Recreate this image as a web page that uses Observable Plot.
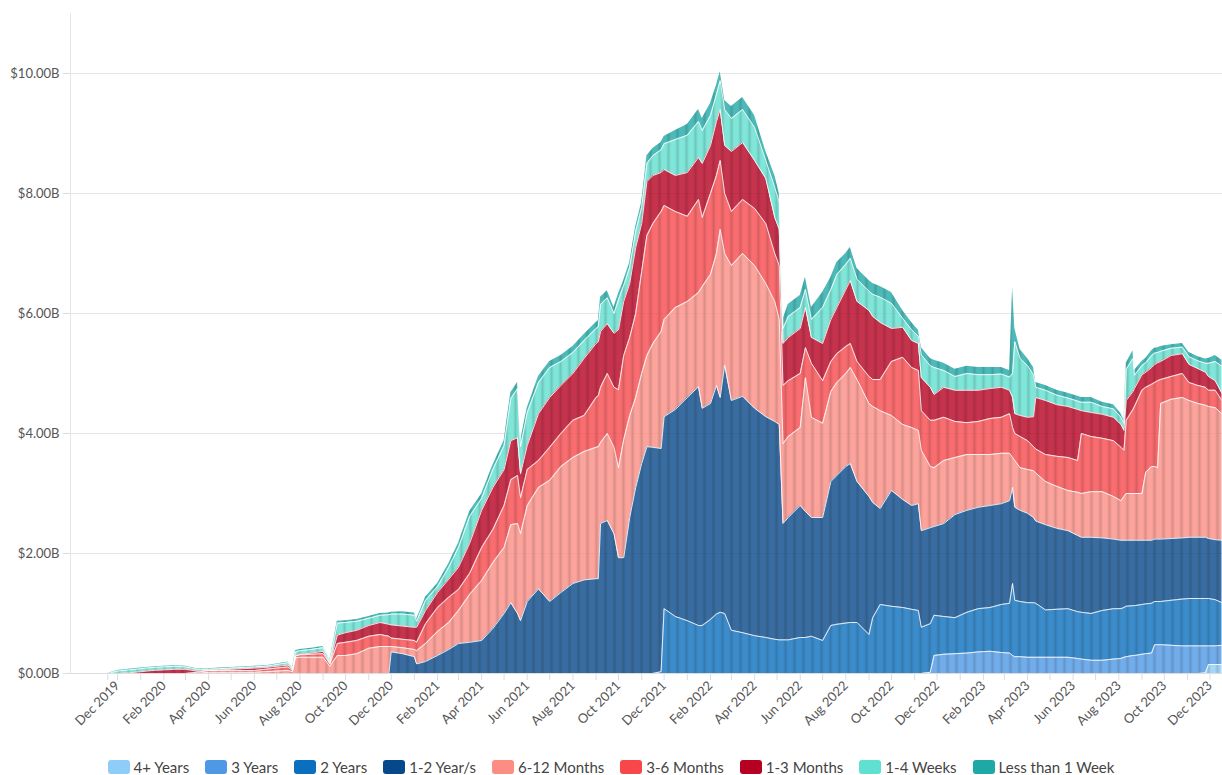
<!DOCTYPE html>
<html><head><meta charset="utf-8">
<script src="https://cdn.jsdelivr.net/npm/d3@7"></script>
<script src="https://cdn.jsdelivr.net/npm/@observablehq/plot@0.6"></script>
<style>
body{margin:0;background:#fff;font-family:Lato,"Source Sans Pro",sans-serif;}
#legend{display:flex;justify-content:center;align-items:center;height:14px;margin-top:10px;font-size:15px;color:#444;}
.item{display:flex;align-items:center;margin:0 8px;white-space:nowrap;}
.sw{width:22px;height:14px;border-radius:3px;margin-right:4px;}
</style></head><body>
<div id="chart"></div><div id="legend"></div>
<script>
const seriesNames = ["4+ Years","3 Years","2 Years","1-2 Year/s","6-12 Months","3-6 Months","1-3 Months","1-4 Weeks","Less than 1 Week"];
const seriesColors = ["#8fcdf9","#4f98e6","#0b6fbe","#07488a","#fb8d83","#f7474b","#b60021","#5fe0d0","#1fa9a6"];

const dates = [
"2019-11-18","2019-12-01","2019-12-16","2020-01-01","2020-01-16","2020-02-01","2020-02-16","2020-03-01","2020-03-16","2020-04-01",
"2020-04-16","2020-05-01","2020-05-16","2020-06-01","2020-06-16","2020-07-01","2020-07-16","2020-07-22","2020-07-26","2020-08-01",
"2020-08-16","2020-09-01","2020-09-10","2020-09-20","2020-10-01","2020-10-16","2020-11-01","2020-11-16","2020-11-28","2020-12-01",
"2020-12-16","2021-01-01","2021-01-04","2021-01-16","2021-02-01","2021-02-16","2021-03-01","2021-03-16","2021-04-01","2021-04-16",
"2021-05-01","2021-05-10","2021-05-19","2021-05-23","2021-06-01","2021-06-16","2021-07-01","2021-07-16","2021-08-01","2021-08-16",
"2021-09-01","2021-09-04","2021-09-07","2021-09-16","2021-09-25","2021-10-01","2021-10-08","2021-10-16","2021-10-24","2021-11-01",
"2021-11-08","2021-11-16","2021-11-27","2021-12-01","2021-12-16","2022-01-01","2022-01-16","2022-01-21","2022-02-01","2022-02-09",
"2022-02-14","2022-02-20","2022-03-01","2022-03-16","2022-04-01","2022-04-16","2022-04-28","2022-05-04","2022-05-09","2022-05-16",
"2022-06-01","2022-06-08","2022-06-16","2022-07-01","2022-07-12","2022-07-20","2022-08-01","2022-08-07","2022-08-16","2022-09-01",
"2022-09-06","2022-09-16","2022-10-01","2022-10-16","2022-10-28","2022-11-06","2022-11-10","2022-11-22","2022-11-27","2022-12-10",
"2022-12-25","2023-01-10","2023-01-25","2023-02-10","2023-02-25","2023-03-08","2023-03-12","2023-03-15","2023-03-22","2023-04-01",
"2023-04-09","2023-04-12","2023-04-25","2023-05-10","2023-05-25","2023-06-07","2023-06-12","2023-06-25","2023-07-10","2023-07-25",
"2023-08-04","2023-08-08","2023-08-11","2023-08-20","2023-08-22","2023-09-01","2023-09-06","2023-09-14","2023-09-18","2023-09-22",
"2023-09-26","2023-10-10","2023-10-25","2023-11-03","2023-11-15","2023-11-25","2023-11-29","2023-12-08","2023-12-17"];

// values in $B, one entry per date
const years4plus = [
0,0,0,0,0,0,0,0,0,0, 0,0,0,0,0,0,0,0,0,0, 0,0,0,0,0,0,0,0,0,0, 0,0,0,0,0,0,0,0,0,0,
0,0,0,0,0,0,0,0,0,0, 0,0,0,0,0,0,0,0,0,0, 0,0,0,0,0,0,0,0,0,0, 0,0,0,0,0,0,0,0,0,0,
0,0,0,0,0,0,0,0,0,0, 0,0,0,0,0,0,0,0,0,0, 0,0,0,0,0,0,0,0,0,0, 0,0,0,0,0,0,0,0,0,0,
0,0,0,0,0,0,0,0,0,0, 0,0,0,0,0,0.01,0.15,0.15,0.15];
const years3 = [
0,0,0,0,0,0,0,0,0,0, 0,0,0,0,0,0,0,0,0,0, 0,0,0,0,0,0,0,0,0,0, 0,0,0,0,0,0,0,0,0,0,
0,0,0,0,0,0,0,0,0,0, 0,0,0,0,0,0,0,0,0,0, 0,0,0,0,0,0,0,0,0,0, 0,0,0,0,0,0,0,0,0,0,
0,0,0,0,0,0,0,0,0,0, 0,0,0,0,0,0,0,0.02,0.3,0.32,
0.33,0.34,0.36,0.37,0.35,0.34,0.3,0.28,0.28,0.27, 0.27,0.27,0.27,0.27,0.27,0.25,0.24,0.22,0.22,0.24,
0.25,0.27,0.28,0.3,0.3,0.32,0.33,0.34,0.48,0.48, 0.48,0.47,0.46,0.46,0.46,0.45,0.31,0.31,0.32];
const years2 = [
0,0,0,0,0,0,0,0,0,0, 0,0,0,0,0,0,0,0,0,0, 0,0,0,0,0,0,0,0,0,0, 0,0,0,0,0,0,0,0,0,0,
0,0,0,0,0,0,0,0,0,0, 0,0,0,0,0,0,0,0,0,0,
0,0,0.03,1.08,0.95,0.88,0.8,0.8,0.9,0.99, 1.02,1.0,0.72,0.68,0.63,0.6,0.57,0.56,0.56,0.56,
0.6,0.6,0.62,0.55,0.8,0.82,0.84,0.85,0.85,0.65, 0.93,1.15,1.12,1.1,1.07,1.05,0.77,0.81,0.67,0.63,
0.6,0.68,0.72,0.73,0.8,0.83,1.2,0.94,0.92,0.91, 0.91,0.9,0.79,0.8,0.81,0.78,0.78,0.78,0.83,0.84,
0.83,0.83,0.84,0.83,0.83,0.83,0.83,0.83,0.72,0.72, 0.72,0.75,0.78,0.79,0.79,0.79,0.79,0.77,0.71];
const years1to2 = [
0,0,0,0,0,0,0,0,0,0, 0,0,0,0,0,0,0,0,0,0, 0,0,0,0,0,0,0,0,0,0.36,
0.33,0.28,0.16,0.2,0.3,0.4,0.5,0.52,0.55,0.75, 1.0,1.18,1.0,0.88,1.2,1.41,1.2,1.35,1.5,1.56,
1.58,1.58,2.5,2.55,2.33,1.93,1.93,2.6,3.1,3.5, 3.78,3.77,3.72,3.2,3.45,3.72,3.98,3.62,3.6,3.81,
3.58,4.14,3.83,3.94,3.79,3.68,3.63,3.59,1.94,2.04, 2.2,2.1,1.98,2.05,2.4,2.48,2.61,2.65,2.35,2.3,
1.92,1.6,1.93,1.8,1.73,1.78,1.61,1.6,1.48,1.55, 1.72,1.7,1.69,1.7,1.68,1.71,1.6,1.55,1.52,1.49,
1.42,1.37,1.42,1.35,1.3,1.27,1.25,1.27,1.21,1.16, 1.14,1.12,1.1,1.09,1.09,1.07,1.06,1.05,1.04,1.04,
1.04,1.03,1.02,1.02,1.02,1.02,1.0,1.0,1.04];
const months6to12 = [
0,0,0,0,0,0,0,0,0,0.02, 0.02,0.02,0.02,0.02,0.03,0.04,0.05,0.03,0.26,0.27,
0.27,0.27,0.12,0.3,0.3,0.33,0.42,0.45,0.45,0.09, 0.1,0.12,0.22,0.3,0.4,0.45,0.55,0.8,1.0,1.1,
1.1,1.3,1.5,1.45,1.6,1.69,2.02,2.1,2.1,2.14, 2.19,2.2,1.35,1.45,1.44,1.5,1.97,1.7,1.5,1.5,
1.52,1.73,1.95,1.62,1.7,1.6,1.57,2.03,2.15,2.2, 2.8,1.86,2.25,2.38,2.38,2.22,2.0,1.75,1.33,1.35,
1.3,2.23,1.67,1.57,1.5,1.55,1.55,1.6,1.7,1.55, 1.6,1.63,1.25,1.25,1.3,1.22,1.34,1.02,0.98,1.05,
0.95,0.93,0.88,0.85,0.84,0.79,0.5,0.78,0.71,0.73, 0.78,0.8,0.72,0.7,0.67,0.72,0.73,0.76,0.77,0.71,
0.66,0.73,0.78,0.78,0.78,0.78,1.13,1.23,1.21,1.19, 2.26,2.32,2.34,2.28,2.23,2.2,2.2,2.2,2.11];
const months3to6 = [
0,0,0,0,0,0,0,0,0.02,0.03, 0.03,0.03,0.03,0.03,0.04,0.05,0.06,0.02,0.03,0.04,
0.05,0.06,0.04,0.2,0.22,0.22,0.2,0.2,0.17,0.14, 0.14,0.15,0.14,0.33,0.4,0.42,0.35,0.35,0.55,0.55,
0.7,0.75,0.8,0.6,0.6,0.45,0.55,0.55,0.62,0.6, 0.83,0.85,0.92,1.0,1.0,1.3,1.4,1.3,1.4,1.7,
2.0,2.0,2.0,1.9,1.6,1.42,1.55,1.15,1.35,1.3, 1.15,1.0,0.9,0.9,0.95,1.0,0.8,0.9,0.97,0.93,
0.9,0.5,0.9,0.71,0.5,0.48,0.45,0.4,0.3,0.45, 0.45,0.52,0.9,1.12,1.0,1.0,0.66,0.77,0.79,0.72,
0.6,0.53,0.55,0.6,0.6,0.66,0.5,0.45,0.52,0.48, 0.4,0.4,0.45,0.5,0.55,0.53,1.0,0.92,0.89,0.93,
0.89,0.77,1.22,1.4,1.45,1.72,1.42,1.37,1.4,1.45, 0.4,0.38,0.4,0.3,0.3,0.3,0.27,0.29,0.22];
const months1to3 = [
0,0,0.01,0.03,0.05,0.06,0.07,0.07,0.02,0, 0.01,0.02,0.03,0.04,0.03,0.03,0.03,0.01,0.01,0.01,
0.02,0.04,0.01,0.14,0.16,0.17,0.18,0.2,0.2,0.22, 0.22,0.22,0.25,0.22,0.25,0.3,0.37,0.5,0.62,0.7,
0.6,0.65,0.63,0.4,0.4,0.78,0.83,0.8,0.78,0.95, 0.9,0.9,0.93,0.83,0.9,1.0,0.9,0.9,1.1,0.8,
0.9,0.8,0.65,0.6,0.6,0.73,0.7,0.9,0.8,0.9, 0.85,0.8,1.0,0.95,0.8,0.75,0.6,0.6,0.7,0.72,
0.75,0.67,0.43,0.62,0.7,0.77,0.95,1.05,1.0,1.1, 1.05,0.95,0.55,0.5,0.45,0.45,0.55,0.55,0.43,0.5,
0.52,0.54,0.52,0.5,0.5,0.39,0.5,0.33,0.35,0.39, 0.5,0.86,0.9,0.86,0.85,0.85,0.38,0.4,0.4,0.39,
0.38,0.33,0.33,0.3,0.3,0.26,0.25,0.28,0.3,0.3, 0.3,0.35,0.33,0.3,0.28,0.25,0.23,0.16,0.12];
const weeks1to4 = [
0,0.04,0.05,0.05,0.05,0.05,0.05,0.04,0.03,0.02, 0.02,0.02,0.02,0.02,0.02,0.03,0.04,0.02,0.06,0.06,
0.06,0.06,0.03,0.2,0.17,0.15,0.12,0.12,0.16,0.18, 0.2,0.2,0.1,0.17,0.1,0.2,0.33,0.45,0.2,0.3,
0.4,0.7,0.82,0.45,0.55,0.52,0.5,0.4,0.35,0.3, 0.25,0.25,0.45,0.43,0.33,0.5,0.27,0.27,0.27,0.27,
0.3,0.33,0.38,0.43,0.6,0.62,0.6,0.55,0.5,0.45, 0.48,0.6,0.55,0.55,0.55,0.3,0.5,0.45,0.25,0.35,
0.35,0.3,0.3,0.6,0.5,0.55,0.42,0.37,0.37,0.32, 0.37,0.42,0.42,0.15,0.18,0.12,0.38,0.36,0.45,0.28,
0.23,0.28,0.26,0.23,0.22,0.22,0.4,1.2,0.95,0.86, 0.7,0.17,0.17,0.16,0.14,0.14,0.14,0.17,0.13,0.14,
0.12,0.12,0.52,0.55,0.22,0.15,0.16,0.2,0.19,0.17, 0.17,0.12,0.11,0.13,0.13,0.15,0.22,0.32,0.45];
const weekLess1 = [
0,0.01,0.01,0.01,0.01,0.01,0.01,0.01,0.01,0.01, 0.01,0.01,0.01,0.01,0.01,0.01,0.01,0.01,0.02,0.02,
0.02,0.02,0.02,0.03,0.03,0.03,0.03,0.03,0.03,0.03, 0.04,0.04,0.03,0.05,0.05,0.06,0.07,0.08,0.07,0.07,
0.08,0.1,0.1,0.1,0.08,0.1,0.1,0.1,0.1,0.1, 0.1,0.1,0.12,0.12,0.1,0.1,0.08,0.08,0.08,0.08,
0.13,0.12,0.12,0.12,0.15,0.18,0.2,0.2,0.2,0.15, 0.15,0.15,0.2,0.2,0.2,0.15,0.2,0.15,0.15,0.2,
0.2,0.2,0.2,0.25,0.2,0.2,0.18,0.18,0.18,0.18, 0.18,0.18,0.18,0.13,0.12,0.1,0.12,0.12,0.12,0.12,
0.12,0.12,0.12,0.12,0.11,0.11,1.43,0.22,0.15,0.12, 0.12,0.08,0.08,0.08,0.08,0.08,0.08,0.08,0.07,0.07,
0.06,0.05,0.1,0.13,0.08,0.07,0.07,0.08,0.08,0.08, 0.08,0.06,0.06,0.07,0.07,0.07,0.08,0.1,0.1];

const yTicks = [0, 2, 4, 6, 8, 10];

const seriesValues = [years4plus, years3, years2, years1to2, months6to12, months3to6, months1to3, weeks1to4, weekLess1];
seriesValues.forEach((arr, i) => { if (arr.length !== dates.length) console.error(seriesNames[i] + " length " + arr.length); });

const rows = [];
dates.forEach((d, i) => {
  const date = new Date(d + "T00:00:00Z");
  seriesNames.forEach((s, k) => rows.push({date, series: s, value: seriesValues[k][i]}));
});

// x scale: Dec 2019 tick and Dec 2023 tick positions
const tA = Date.UTC(2019, 11, 1), tB = Date.UTC(2023, 11, 1);
const k = 1092.5 / (tB - tA);
const xDomain = [new Date(tA - 47 / k), new Date(tB + 12.5 / k)];
const xTicks = [new Date(dates[0] + "T00:00:00Z"), ...d3.utcMonth.range(new Date(tA), new Date(tB + 86400000))];
const fmt = d3.utcFormat("%b %Y");
const tickFmt = d => (d.getUTCDate() === 1 && d.getUTCMonth() % 2 === 1) ? fmt(d) : "";

const chart = Plot.plot({
  width: 1222, height: 750,
  marginLeft: 70, marginRight: 0, marginTop: 13, marginBottom: 77,
  style: {fontFamily: "Lato, 'Source Sans Pro', sans-serif", fontSize: "13px", background: "#fff"},
  x: {type: "utc", domain: xDomain},
  y: {domain: [0, 11]},
  color: {domain: seriesNames, range: seriesColors},
  opacity: {domain: [0, 1], range: [0, 1]},
  marks: [
    Plot.gridY(yTicks.filter(d => d > 0), {stroke: "#e6e6e6", strokeOpacity: 1}),
    Plot.ruleX([xDomain[0]], {stroke: "#e6e6e6"}),
    Plot.areaY(rows, {x: "date", y: "value", z: "series", fill: "series", fillOpacity: 0.8, order: seriesNames, curve: "linear"}),
    // subtle vertical banding over the stacked total
    Plot.areaY(rows, Plot.groupX({y: "sum"}, {x: "date", y: "value", fill: "url(#bands)", curve: "linear"})),
    Plot.lineY(rows, Plot.stackY2({x: "date", y: "value", z: "series", order: seriesNames, stroke: "white", strokeWidth: 1,
      strokeOpacity: d => d.series === "Less than 1 Week" ? 0 : 0.85, curve: "linear"})),
    Plot.ruleY([0], {stroke: "#dddddd"}),
    Plot.axisY({ticks: yTicks, tickFormat: d => "$" + d.toFixed(2) + "B", tickSize: 7, tickPadding: 4, stroke: "#dddddd", fill: "#555", label: null}),
    Plot.axisX({ticks: xTicks, tickFormat: tickFmt, tickRotate: -45, tickSize: 7, tickPadding: 3, stroke: "#dddddd", fill: "#555", label: null})
  ]
});
// pattern used by the banding overlay
const ns = "http://www.w3.org/2000/svg";
const defs = document.createElementNS(ns, "defs");
const pat = document.createElementNS(ns, "pattern");
pat.setAttribute("id", "bands"); pat.setAttribute("patternUnits", "userSpaceOnUse");
pat.setAttribute("width", "9"); pat.setAttribute("height", "10");
const grad = document.createElementNS(ns, "linearGradient");
grad.setAttribute("id", "bandGrad");
[["0%", 0], ["50%", 0.13], ["100%", 0]].forEach(([o, a]) => {
  const st = document.createElementNS(ns, "stop");
  st.setAttribute("offset", o); st.setAttribute("stop-color", "#000"); st.setAttribute("stop-opacity", a);
  grad.appendChild(st);
});
const r = document.createElementNS(ns, "rect");
r.setAttribute("x", "0"); r.setAttribute("y", "0"); r.setAttribute("width", "5"); r.setAttribute("height", "10");
r.setAttribute("fill", "url(#bandGrad)");
pat.appendChild(r);
defs.appendChild(grad); defs.appendChild(pat);
chart.insertBefore(defs, chart.firstChild);
document.getElementById("chart").appendChild(chart);

const legend = document.getElementById("legend");
seriesNames.forEach((s, i) => {
  const it = document.createElement("div"); it.className = "item";
  const sw = document.createElement("div"); sw.className = "sw"; sw.style.background = seriesColors[i];
  const tx = document.createElement("span"); tx.textContent = s;
  it.appendChild(sw); it.appendChild(tx); legend.appendChild(it);
});
</script>
</body></html>
